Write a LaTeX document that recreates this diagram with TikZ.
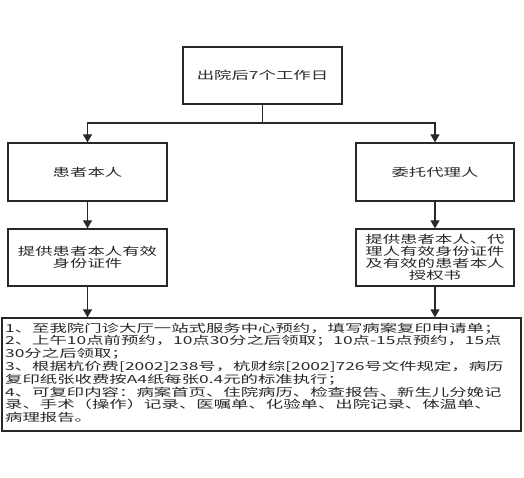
\documentclass[tikz,border=0pt]{standalone}
\usepackage{fontspec}
\usetikzlibrary{arrows.meta}
\newfontfamily\cjk{Noto Sans CJK SC}[FakeStretch=1.58]
\definecolor{ink}{RGB}{40,40,40}
\begin{document}
\begin{tikzpicture}[x=1pt,y=-1pt,
  box/.style={draw=ink,line width=1.3pt,rectangle,inner sep=0pt,align=center,
    font=\cjk\fontsize{11}{12.2}\selectfont,text=ink},
  arr/.style={draw=ink,line width=1.3pt,-{Triangle[width=9pt,length=8pt]}},
  ln/.style={draw=ink,line width=1.3pt}]
\useasboundingbox (0,0) rectangle (524,478);
\fill[white] (0,0) rectangle (524,478);
\node[box,minimum width=159pt,minimum height=57pt] (top) at (262.5,75.5) {出院后7个工作日};
\node[box,minimum width=159pt,minimum height=58pt] (p1) at (87.5,172) {患者本人};
\node[box,minimum width=158pt,minimum height=58pt] (d1) at (435,172) {委托代理人};
\node[box,minimum width=159pt,minimum height=57pt] (p2) at (87.5,257.5) {提供患者本人有效\\身份证件};
\node[box,minimum width=158pt,minimum height=57pt] (d2) at (435,257.5) {提供患者本人、代\\理人有效身份证件\\及有效的患者本人\\授权书};
\node[box,minimum width=519pt,minimum height=113pt] (bot) at (261.5,374.5) {};
\node[anchor=north west,inner sep=0pt,align=left,text=ink,
  font=\cjk\fontsize{11}{12.8}\selectfont] (txt) at (5,322.5)
  {1、至我院门诊大厅一站式服务中心预约，填写病案复印申请单；\\
   2、上午10点前预约，10点30分之后领取；10点-15点预约，15点\\
   30分之后领取；\\
   3、根据杭价费[2002]238号，杭财综[2002]726号文件规定，病历\\
   复印纸张收费按A4纸每张0.4元的标准执行；\\
   4、可复印内容：病案首页、住院病历、检查报告、新生儿分娩记\\
   录、手术（操作）记录、医嘱单、化验单、出院记录、体温单、\\
   病理报告。};
\coordinate (j) at (262.5,123);
\draw[ln] (top) -- (j);
\draw[arr] (j) -| (p1);
\draw[arr] (j) -| (d1);
\draw[arr] (p1) -- (p2);
\draw[arr] (d1) -- (d2);
\draw[arr] (p2) -- (p2 |- bot.north);
\draw[arr] (d2) -- (d2 |- bot.north);
\end{tikzpicture}
\end{document}
